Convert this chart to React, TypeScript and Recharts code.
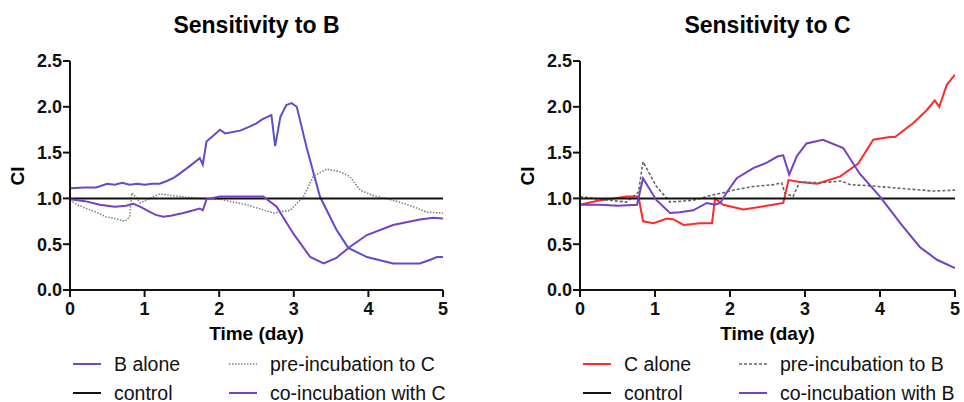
import { LineChart, Line, XAxis, YAxis } from 'recharts';

const dayTicks = [0, 1, 2, 3, 4, 5];
const ciTicks = [0, 0.5, 1, 1.5, 2, 2.5];

const control = [
  { day: 0, ci: 1 },
  { day: 5, ci: 1 },
];

// left panel: sensitivity to B
const bAlone = [
  { day: 0, ci: 1.11 }, { day: 0.2, ci: 1.12 }, { day: 0.35, ci: 1.12 }, { day: 0.5, ci: 1.16 },
  { day: 0.6, ci: 1.15 }, { day: 0.7, ci: 1.17 }, { day: 0.8, ci: 1.15 }, { day: 0.9, ci: 1.16 },
  { day: 1.0, ci: 1.15 }, { day: 1.1, ci: 1.16 }, { day: 1.2, ci: 1.16 }, { day: 1.3, ci: 1.19 },
  { day: 1.4, ci: 1.23 }, { day: 1.47, ci: 1.27 }, { day: 1.6, ci: 1.35 }, { day: 1.74, ci: 1.44 },
  { day: 1.78, ci: 1.37 }, { day: 1.83, ci: 1.62 }, { day: 1.9, ci: 1.67 }, { day: 2.01, ci: 1.75 },
  { day: 2.08, ci: 1.71 }, { day: 2.28, ci: 1.74 }, { day: 2.4, ci: 1.78 }, { day: 2.5, ci: 1.82 },
  { day: 2.57, ci: 1.86 }, { day: 2.7, ci: 1.91 }, { day: 2.75, ci: 1.57 }, { day: 2.82, ci: 1.89 },
  { day: 2.9, ci: 2.02 }, { day: 2.97, ci: 2.04 }, { day: 3.04, ci: 2.0 }, { day: 3.17, ci: 1.56 },
  { day: 3.35, ci: 1.02 }, { day: 3.57, ci: 0.66 }, { day: 3.73, ci: 0.46 }, { day: 3.98, ci: 0.36 },
  { day: 4.33, ci: 0.29 }, { day: 4.69, ci: 0.29 }, { day: 4.83, ci: 0.33 }, { day: 4.92, ci: 0.36 },
  { day: 5.0, ci: 0.36 },
];

const preIncubationC = [
  { day: 0, ci: 0.98 }, { day: 0.1, ci: 0.93 }, { day: 0.22, ci: 0.89 }, { day: 0.35, ci: 0.85 },
  { day: 0.48, ci: 0.8 }, { day: 0.6, ci: 0.78 }, { day: 0.74, ci: 0.75 }, { day: 0.8, ci: 0.8 },
  { day: 0.83, ci: 1.06 }, { day: 0.88, ci: 1.02 }, { day: 0.94, ci: 0.95 }, { day: 1.07, ci: 1.0 },
  { day: 1.21, ci: 1.05 }, { day: 1.47, ci: 1.02 }, { day: 1.75, ci: 1.0 }, { day: 2.01, ci: 0.99 },
  { day: 2.37, ci: 0.93 }, { day: 2.73, ci: 0.84 }, { day: 2.95, ci: 0.87 }, { day: 3.13, ci: 1.02 },
  { day: 3.26, ci: 1.24 }, { day: 3.44, ci: 1.32 }, { day: 3.62, ci: 1.29 }, { day: 3.75, ci: 1.24 },
  { day: 3.89, ci: 1.09 }, { day: 4.07, ci: 1.03 }, { day: 4.33, ci: 0.98 }, { day: 4.6, ci: 0.91 },
  { day: 4.78, ci: 0.85 }, { day: 5, ci: 0.84 },
];

const coIncubationC = [
  { day: 0, ci: 0.99 }, { day: 0.2, ci: 0.97 }, { day: 0.4, ci: 0.93 }, { day: 0.6, ci: 0.91 },
  { day: 0.75, ci: 0.92 }, { day: 0.85, ci: 0.94 }, { day: 0.94, ci: 0.91 }, { day: 1.05, ci: 0.86 },
  { day: 1.15, ci: 0.82 }, { day: 1.25, ci: 0.8 }, { day: 1.35, ci: 0.81 }, { day: 1.52, ci: 0.84 },
  { day: 1.74, ci: 0.89 }, { day: 1.78, ci: 0.87 }, { day: 1.83, ci: 0.99 }, { day: 2.01, ci: 1.02 },
  { day: 2.3, ci: 1.02 }, { day: 2.59, ci: 1.02 }, { day: 2.77, ci: 0.91 }, { day: 2.99, ci: 0.62 },
  { day: 3.22, ci: 0.36 }, { day: 3.4, ci: 0.29 }, { day: 3.57, ci: 0.35 }, { day: 3.75, ci: 0.47 },
  { day: 3.98, ci: 0.6 }, { day: 4.33, ci: 0.71 }, { day: 4.69, ci: 0.77 }, { day: 4.87, ci: 0.79 },
  { day: 5, ci: 0.78 },
];

// right panel: sensitivity to C
const cAlone = [
  { day: 0, ci: 0.93 }, { day: 0.1, ci: 0.95 }, { day: 0.27, ci: 0.98 }, { day: 0.45, ci: 1.0 },
  { day: 0.62, ci: 1.02 }, { day: 0.78, ci: 1.02 }, { day: 0.84, ci: 0.75 }, { day: 0.98, ci: 0.73 },
  { day: 1.16, ci: 0.78 }, { day: 1.25, ci: 0.77 }, { day: 1.38, ci: 0.71 }, { day: 1.6, ci: 0.73 },
  { day: 1.76, ci: 0.73 }, { day: 1.8, ci: 1.0 }, { day: 1.91, ci: 0.93 }, { day: 2.18, ci: 0.88 },
  { day: 2.49, ci: 0.92 }, { day: 2.71, ci: 0.95 }, { day: 2.78, ci: 1.2 }, { day: 2.93, ci: 1.18 },
  { day: 3.16, ci: 1.16 }, { day: 3.47, ci: 1.24 }, { day: 3.71, ci: 1.38 }, { day: 3.91, ci: 1.64 },
  { day: 4.13, ci: 1.67 }, { day: 4.2, ci: 1.67 }, { day: 4.44, ci: 1.82 }, { day: 4.62, ci: 1.96 },
  { day: 4.73, ci: 2.07 }, { day: 4.79, ci: 2.0 }, { day: 4.89, ci: 2.24 }, { day: 5, ci: 2.35 },
];

const preIncubationB = [
  { day: 0, ci: 1.02 }, { day: 0.27, ci: 0.99 }, { day: 0.62, ci: 0.96 }, { day: 0.78, ci: 1.07 },
  { day: 0.84, ci: 1.4 }, { day: 1.02, ci: 1.13 }, { day: 1.2, ci: 0.96 }, { day: 1.51, ci: 0.98 },
  { day: 1.78, ci: 1.04 }, { day: 1.96, ci: 1.07 }, { day: 2.04, ci: 1.09 }, { day: 2.31, ci: 1.13 },
  { day: 2.58, ci: 1.15 }, { day: 2.69, ci: 1.17 }, { day: 2.73, ci: 1.06 }, { day: 2.84, ci: 1.02 },
  { day: 2.93, ci: 1.18 }, { day: 3.2, ci: 1.17 }, { day: 3.49, ci: 1.19 }, { day: 3.6, ci: 1.15 },
  { day: 3.82, ci: 1.14 }, { day: 4.27, ci: 1.11 }, { day: 4.71, ci: 1.08 }, { day: 5, ci: 1.09 },
];

const coIncubationB = [
  { day: 0, ci: 0.93 }, { day: 0.27, ci: 0.93 }, { day: 0.5, ci: 0.92 }, { day: 0.76, ci: 0.93 },
  { day: 0.84, ci: 1.22 }, { day: 1.02, ci: 0.98 }, { day: 1.2, ci: 0.84 }, { day: 1.33, ci: 0.85 },
  { day: 1.51, ci: 0.87 }, { day: 1.69, ci: 0.95 }, { day: 1.8, ci: 0.93 }, { day: 1.87, ci: 0.95 },
  { day: 1.96, ci: 1.07 }, { day: 2.09, ci: 1.22 }, { day: 2.31, ci: 1.33 }, { day: 2.49, ci: 1.39 },
  { day: 2.64, ci: 1.46 }, { day: 2.71, ci: 1.47 }, { day: 2.79, ci: 1.26 }, { day: 2.89, ci: 1.46 },
  { day: 3.02, ci: 1.6 }, { day: 3.24, ci: 1.64 }, { day: 3.51, ci: 1.55 }, { day: 3.73, ci: 1.27 },
  { day: 4.0, ci: 1.02 }, { day: 4.27, ci: 0.73 }, { day: 4.53, ci: 0.47 }, { day: 4.76, ci: 0.33 },
  { day: 5, ci: 0.24 },
];

const FONT = '"Liberation Sans", Arial, Helvetica, sans-serif';
const BLUE = '#5a4fcf';
const PURPLE = '#7440c4';
const RED = '#ff2a2a';

type Series = { name: string; data: { day: number; ci: number }[]; color: string; width: number; dash?: string };

const leftSeries: Series[] = [
  { name: 'B alone', data: bAlone, color: BLUE, width: 2 },
  { name: 'pre-incubation to C', data: preIncubationC, color: '#8a8078', width: 1.6, dash: '1.5 1.5' },
  { name: 'control', data: control, color: '#111', width: 2 },
  { name: 'co-incubation with C', data: coIncubationC, color: PURPLE, width: 2 },
];

const rightSeries: Series[] = [
  { name: 'C alone', data: cAlone, color: RED, width: 2 },
  { name: 'pre-incubation to B', data: preIncubationB, color: '#666', width: 1.6, dash: '3 2' },
  { name: 'control', data: control, color: '#111', width: 2 },
  { name: 'co-incubation with B', data: coIncubationB, color: PURPLE, width: 2 },
];

const tickStyle = { fill: '#111', fontSize: 18, fontWeight: 'bold', fontFamily: FONT };

function Panel({ left, plotLeft, title, series }: { left: number; plotLeft: number; title: string; series: Series[] }) {
  const W = 482;
  const plotRight = left === 0 ? 443 : 955;
  const center = (plotLeft + plotRight) / 2;
  const cols = [plotLeft + 2, plotLeft + 158];
  return (
    <>
      <div style={{ position: 'absolute', left: center - 150, top: 11, width: 300, textAlign: 'center', fontSize: 23, fontWeight: 'bold', fontFamily: FONT, lineHeight: '28px' }}>
        {title}
      </div>
      <div style={{ position: 'absolute', left: plotLeft - 52 - 30, top: 164, width: 60, textAlign: 'center', fontSize: 19, fontWeight: 'bold', fontFamily: FONT, lineHeight: '24px', transform: 'rotate(-90deg)' }}>
        CI
      </div>
      <div style={{ position: 'absolute', left: center - 100, top: 322, width: 200, textAlign: 'center', fontSize: 19, fontWeight: 'bold', fontFamily: FONT, lineHeight: '24px' }}>
        Time (day)
      </div>
      <div style={{ position: 'absolute', left, top: 0 }}>
        <LineChart width={W} height={402} margin={{ top: 61, right: W - (plotRight - left), bottom: 82, left: plotLeft - left - 70 }}>
          <XAxis
            type="number"
            dataKey="day"
            domain={[0, 5]}
            ticks={dayTicks}
            height={30}
            axisLine={{ stroke: '#111', strokeWidth: 2 }}
            tickLine={{ stroke: '#111', strokeWidth: 2 }}
            tickSize={7}
            tickMargin={5}
            tick={tickStyle}
            allowDataOverflow
          />
          <YAxis
            type="number"
            dataKey="ci"
            domain={[0, 2.5]}
            ticks={ciTicks}
            width={70}
            axisLine={{ stroke: '#111', strokeWidth: 2 }}
            tickLine={{ stroke: '#111', strokeWidth: 2 }}
            tickSize={7}
            tickMargin={1}
            tick={tickStyle}
            tickFormatter={(v: number) => v.toFixed(1)}
          />
          {series.map((s) => (
            <Line
              key={s.name}
              data={s.data}
              dataKey="ci"
              type="linear"
              stroke={s.color}
              strokeWidth={s.width}
              strokeDasharray={s.dash}
              dot={false}
              isAnimationActive={false}
            />
          ))}
        </LineChart>
      </div>
      {series.map((s, i) => {
        const x = cols[i % 2];
        const y = i < 2 ? 364 : 393;
        return (
          <div key={'lg-' + s.name} style={{ position: 'absolute', left: x, top: y - 12, height: 24, display: 'flex', alignItems: 'center', fontFamily: FONT, fontSize: 19.5, color: '#111', whiteSpace: 'nowrap' }}>
            <svg width={30} height={6} style={{ marginRight: 12 }}>
              <line x1={1} y1={3} x2={29} y2={3} stroke={s.color} strokeWidth={s.width} strokeDasharray={s.dash} />
            </svg>
            {s.name}
          </div>
        );
      })}
    </>
  );
}

export default function App() {
  return (
    <div style={{ position: 'absolute', left: 0, top: 0, width: 964, height: 402, background: '#fff', overflow: 'hidden' }}>
      <Panel left={0} plotLeft={70} title="Sensitivity to B" series={leftSeries} />
      <Panel left={482} plotLeft={580} title="Sensitivity to C" series={rightSeries} />
    </div>
  );
}
